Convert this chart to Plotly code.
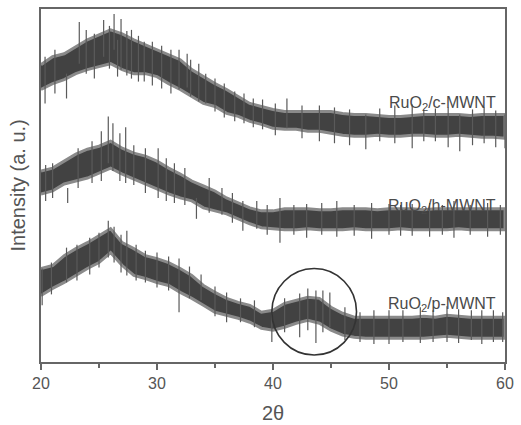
import plotly.graph_objects as go

# 2-theta grid (degrees) at which band edges were read
two_theta = list(range(20, 61))

# RuO2/c-MWNT (top) band: lower / upper edge of the noisy trace (a.u.)
c_lower = [274, 280, 284, 290, 294, 297, 300, 294, 290, 290, 287, 280, 274, 267, 260, 257, 250, 247, 242, 239,
           235, 234, 234, 232, 232, 230, 228, 227, 227, 228, 227, 227, 228, 228, 227, 227, 228, 227, 226, 226, 225]
c_upper = [299, 307, 310, 317, 324, 329, 334, 330, 324, 319, 314, 309, 304, 294, 287, 280, 274, 267, 260, 257,
           254, 252, 252, 252, 252, 252, 250, 249, 249, 248, 247, 247, 248, 249, 249, 249, 249, 248, 249, 249, 249]

# RuO2/h-MWNT (middle)
h_lower = [169, 172, 179, 182, 185, 190, 195, 189, 184, 179, 174, 169, 165, 162, 155, 152, 149, 144, 139, 135,
           134, 133, 133, 134, 133, 133, 133, 134, 133, 133, 133, 134, 133, 133, 133, 133, 134, 133, 133, 133, 133]
h_upper = [192, 195, 202, 209, 214, 217, 222, 215, 210, 207, 202, 195, 189, 182, 177, 172, 165, 160, 155, 152,
           152, 154, 154, 154, 153, 153, 154, 154, 154, 153, 154, 154, 154, 153, 154, 154, 154, 154, 154, 154, 154]

# RuO2/p-MWNT (bottom)
p_lower = [67, 74, 80, 87, 94, 100, 110, 97, 87, 84, 80, 77, 70, 64, 57, 50, 47, 44, 40, 34,
           32, 35, 39, 42, 39, 32, 27, 25, 24, 24, 24, 24, 24, 24, 25, 26, 25, 24, 24, 24, 24]
p_upper = [94, 97, 107, 114, 120, 127, 134, 120, 114, 107, 104, 100, 94, 87, 77, 70, 64, 60, 57, 50,
           52, 59, 62, 65, 64, 55, 49, 45, 45, 45, 45, 45, 45, 46, 45, 47, 46, 45, 45, 45, 45]

# Individual noise spikes: position, top, bottom
c_spk_x = [20.35, 21.2, 22.2, 23.3, 23.9, 24.6, 25.4, 25.9, 26.3, 26.6, 26.9, 27.4, 27.8, 28.4, 28.9, 29.6,
           30.4, 31.2, 31.9, 32.6, 32.9, 33.6, 34.2, 35.0, 35.8, 36.7, 37.5, 38.3, 39.1, 40.2,
           41.2, 42.5, 44.0, 45.3, 46.6, 48.0, 49.2, 50.5, 52.0, 53.0, 54.0, 55.1, 56.1, 57.2, 58.2, 59.2, 60.0]
c_spk_top = [307, 314, 290, 342, 334, 330, 344, 338, 350, 324, 345, 333, 334, 328, 322, 322,
             318, 314, 314, 310, 304, 300, 290, 285, 280, 272, 270, 265, 264, 260,
             265, 258, 258, 256, 254, 249, 255, 258, 259, 254, 255, 256, 249, 254, 256, 253, 249]
c_spk_bot = [260, 270, 265, 300, 290, 285, 307, 295, 314, 287, 294, 288, 285, 282, 282, 278,
             275, 270, 274, 276, 267, 262, 260, 252, 246, 242, 240, 236, 234, 228,
             235, 225, 222, 220, 218, 214, 222, 220, 215, 222, 222, 216, 212, 218, 220, 216, 215]

h_spk_x = [20.4, 21.0, 22.3, 23.2, 24.4, 25.2, 25.8, 26.2, 26.8, 27.3, 28.0, 29.0, 30.1, 30.8, 31.5, 32.4,
           33.4, 34.5, 35.6, 36.5, 37.4, 38.6, 39.5, 40.6, 41.8, 42.9, 44.2, 45.5, 47.0, 48.5, 50.0,
           51.0, 52.0, 53.5, 54.6, 55.6, 57.0, 58.5, 59.6]
h_spk_top = [198, 200, 175, 215, 222, 232, 247, 240, 230, 236, 218, 215, 215, 205, 200, 195,
             165, 185, 175, 170, 162, 162, 158, 165, 158, 159, 160, 162, 158, 160, 159,
             158, 159, 160, 158, 162, 158, 160, 158]
h_spk_bot = [162, 165, 160, 175, 180, 182, 200, 192, 182, 180, 178, 170, 165, 162, 160, 158,
             144, 150, 148, 140, 132, 134, 128, 120, 128, 125, 128, 126, 127, 124, 128,
             127, 127, 126, 128, 125, 128, 126, 128]

p_spk_x = [20.1, 20.9, 22.2, 23.1, 24.2, 25.0, 25.8, 26.3, 26.9, 27.4, 28.2, 29.0, 30.0, 31.0, 31.9, 32.8,
           33.8, 35.0, 36.0, 37.2, 38.4, 39.9, 41.0, 42.3, 43.0, 43.7, 44.3, 44.9, 46.2, 47.5, 48.7,
           50.0, 51.2, 52.7, 53.8, 55.0, 56.0, 57.1, 58.0, 59.0, 59.8]
p_spk_top = [94, 100, 115, 118, 125, 130, 142, 136, 128, 132, 118, 112, 110, 106, 104, 96,
             88, 76, 70, 64, 62, 50, 64, 69, 74, 72, 72, 70, 55, 50, 52,
             52, 52, 55, 52, 56, 53, 52, 52, 52, 50]
p_spk_bot = [57, 68, 80, 82, 88, 95, 105, 100, 90, 87, 82, 80, 75, 72, 50, 64,
             62, 46, 40, 40, 35, 20, 30, 25, 32, 19, 30, 35, 22, 20, 18,
             18, 20, 19, 20, 20, 19, 22, 18, 20, 20]

labels = ["RuO<sub>2</sub>/c-MWNT", "RuO<sub>2</sub>/h-MWNT", "RuO<sub>2</sub>/p-MWNT"]
label_y = [260, 156, 58]

x_ticks = [20, 30, 40, 50, 60]

# highlighted region (circle) around the RuO2 reflection
circle_x = [39.9, 47.2]
circle_y = [7, 94]

FONT = "Liberation Sans, Arial, sans-serif"

fig = go.Figure()

series = [(c_lower, c_upper, c_spk_x, c_spk_top, c_spk_bot),
          (h_lower, h_upper, h_spk_x, h_spk_top, h_spk_bot),
          (p_lower, p_upper, p_spk_x, p_spk_top, p_spk_bot)]

for lo, up, sx, st, sb in series:
    fig.add_trace(go.Scatter(
        x=two_theta + two_theta[::-1], y=up + lo[::-1],
        fill="toself", fillcolor="#424242", mode="lines",
        line=dict(color="#8a8a8a", width=3), hoverinfo="skip", showlegend=False))
    xs, ys = [], []
    for xv, t, b in zip(sx, st, sb):
        xs += [xv, xv, None]
        ys += [b, t, None]
    fig.add_trace(go.Scatter(x=xs, y=ys, mode="lines",
                             line=dict(color="#5a5a5a", width=1.2),
                             hoverinfo="skip", showlegend=False))

for txt, yv in zip(labels, label_y):
    fig.add_annotation(x=59.4, y=yv, xref="x", yref="y", text=txt, showarrow=False,
                       xanchor="right", yanchor="middle",
                       font=dict(family=FONT, size=16, color="#4a4a4a"))

fig.add_shape(type="circle", xref="x", yref="y",
              x0=circle_x[0], x1=circle_x[1], y0=circle_y[0], y1=circle_y[1],
              line=dict(color="#333333", width=1.6))

fig.add_annotation(xref="paper", yref="paper", x=0, y=0.5, xshift=-24, text="Intensity (a. u.)",
                   textangle=-90, showarrow=False, xanchor="center", yanchor="middle",
                   font=dict(family=FONT, size=20, color="#555555"))
fig.add_annotation(xref="paper", yref="paper", x=0.5, y=0, yshift=-51, text="2θ",
                   showarrow=False, xanchor="center", yanchor="middle",
                   font=dict(family=FONT, size=20, color="#555555"))

fig.update_layout(
    width=521, height=425,
    margin=dict(l=41, r=10, t=7, b=63),
    paper_bgcolor="white", plot_bgcolor="white",
    showlegend=False,
    xaxis=dict(range=[20, 60], tickvals=x_ticks, ticktext=[str(v) for v in x_ticks],
               ticks="outside", ticklen=6, tickwidth=1.5, tickcolor="#666666",
               minor=dict(dtick=5, tick0=20, ticks="outside", ticklen=4, tickwidth=1.5, tickcolor="#666666"),
               showline=True, linecolor="#666666", linewidth=1.5, mirror=True,
               showgrid=False, zeroline=False,
               tickfont=dict(family=FONT, size=16, color="#555555")),
    yaxis=dict(range=[0, 355], showticklabels=False, ticks="",
               showline=True, linecolor="#666666", linewidth=1.5, mirror=True,
               showgrid=False, zeroline=False),
)

fig.write_html("out.html", config={"displayModeBar": False},
               post_script="document.body.style.margin='0';document.body.style.overflow='hidden';")
